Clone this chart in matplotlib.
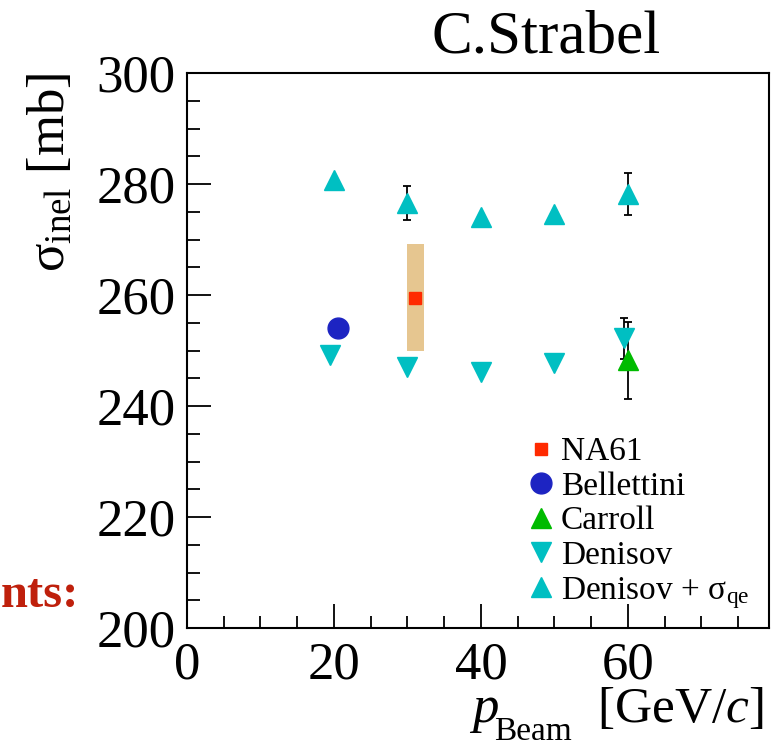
import numpy as np
import matplotlib
matplotlib.use("Agg")
import matplotlib.pyplot as plt
from matplotlib.lines import Line2D
from matplotlib.patches import Rectangle
from matplotlib.ticker import MultipleLocator

plt.rcParams['font.family'] = ['Liberation Serif', 'DejaVu Serif']
plt.rcParams['mathtext.fontset'] = 'custom'
plt.rcParams['mathtext.rm'] = 'Liberation Serif'
plt.rcParams['mathtext.it'] = 'Liberation Serif:italic'

# data
na61_p = [31.0]
na61_sig = [259.5]
na61_sys_lo = [249.9]
na61_sys_hi = [269.2]
na61_sys_x = [29.9, 32.2]

bell_p = [20.6]
bell_sig = [254.1]

carroll_p = [60.0]
carroll_sig = [248.2]
carroll_err = [6.9]

denisov_p = [19.5, 30.0, 40.0, 50.0, 59.5]
denisov_sig = [249.2, 247.1, 246.1, 247.7, 252.2]
denisov_err = [0.0, 0.0, 0.0, 0.0, 3.7]

denqe_p = [20.0, 30.0, 40.0, 50.0, 60.0]
denqe_sig = [280.8, 276.6, 274.1, 274.6, 278.2]
denqe_err = [0.0, 3.0, 0.0, 0.0, 3.8]

cyan = '#00bfc2'
blue = '#1d24c2'
green = '#00bb00'
red = '#ff2a00'
tan = '#e6c690'

W, H = 777, 746
fig = plt.figure(figsize=(W/100, H/100), dpi=100)
ax = fig.add_axes([187/W, 1-628/H, (769-187)/W, (628-73)/H])

# NA61 systematic band
ax.add_patch(Rectangle((na61_sys_x[0], na61_sys_lo[0]), na61_sys_x[1]-na61_sys_x[0],
                       na61_sys_hi[0]-na61_sys_lo[0], facecolor=tan, edgecolor='none', zorder=1))

ax.errorbar(denqe_p, denqe_sig, yerr=denqe_err, fmt='^', ms=15, color=cyan,
            ecolor='black', elinewidth=1.3, capsize=3, capthick=1.3, zorder=3)
ax.errorbar(denisov_p, denisov_sig, yerr=denisov_err, fmt='v', ms=15, color=cyan,
            ecolor='black', elinewidth=1.3, capsize=3, capthick=1.3, zorder=3)
ax.errorbar(carroll_p, carroll_sig, yerr=carroll_err, fmt='^', ms=15, color=green,
            ecolor='black', elinewidth=1.3, capsize=3, capthick=1.3, zorder=3)
ax.plot(bell_p, bell_sig, 'o', ms=15, color=blue, zorder=3)
ax.plot(na61_p, na61_sig, 's', ms=8, color=red, zorder=4)

ax.set_xlim(0, 79.2)
ax.set_ylim(200, 300)
ax.xaxis.set_major_locator(MultipleLocator(20))
ax.xaxis.set_minor_locator(MultipleLocator(5))
ax.yaxis.set_major_locator(MultipleLocator(20))
ax.yaxis.set_minor_locator(MultipleLocator(5))
ax.tick_params(which='both', direction='in', top=False, right=False, width=1.3)
ax.tick_params(which='major', length=17, labelsize=38)
ax.tick_params(which='minor', length=9)
ax.tick_params(axis='y', pad=8)
ax.tick_params(axis='x', pad=10)
for s in ax.spines.values():
    s.set_linewidth(1.5)

ax.set_ylabel(r'$\mathrm{σ}_{\mathrm{inel}}$ [mb]', fontsize=38, loc='top', labelpad=16)

# x axis title, pieces placed like the ROOT label
fig.text(472/W, 1-722/H, 'p', fontsize=38, style='italic', ha='left', va='baseline')
fig.text(494/W, 1-740/H, 'Beam', fontsize=24, ha='left', va='baseline')
fig.text(763/W, 1-722/H, r'[GeV/$c$]', fontsize=37, ha='right', va='baseline')

fig.text(546/W, 1-38/H, 'C.Strabel', fontsize=44, ha='center', va='center')
fig.text(1/W, 1-607/H, 'nts:', fontsize=35, fontweight='bold', color='#bf200c',
         ha='left', va='baseline')

handles = [
    Line2D([], [], ls='none', marker='s', ms=8, color=red),
    Line2D([], [], ls='none', marker='o', ms=15, color=blue),
    Line2D([], [], ls='none', marker='^', ms=14, color=green),
    Line2D([], [], ls='none', marker='v', ms=14, color=cyan),
    Line2D([], [], ls='none', marker='^', ms=14, color=cyan),
]
labels = ['NA61', 'Bellettini', 'Carroll', 'Denisov', r'Denisov + $\mathrm{σ}_{\mathrm{qe}}$']
ax.legend(handles, labels, loc='upper left', bbox_to_anchor=(514/W, 1-420/H),
          bbox_transform=fig.transFigure, frameon=False, fontsize=24,
          handlelength=0.6, handletextpad=0.3, labelspacing=0.12, borderpad=0)

fig.savefig('out.png', dpi=100)
